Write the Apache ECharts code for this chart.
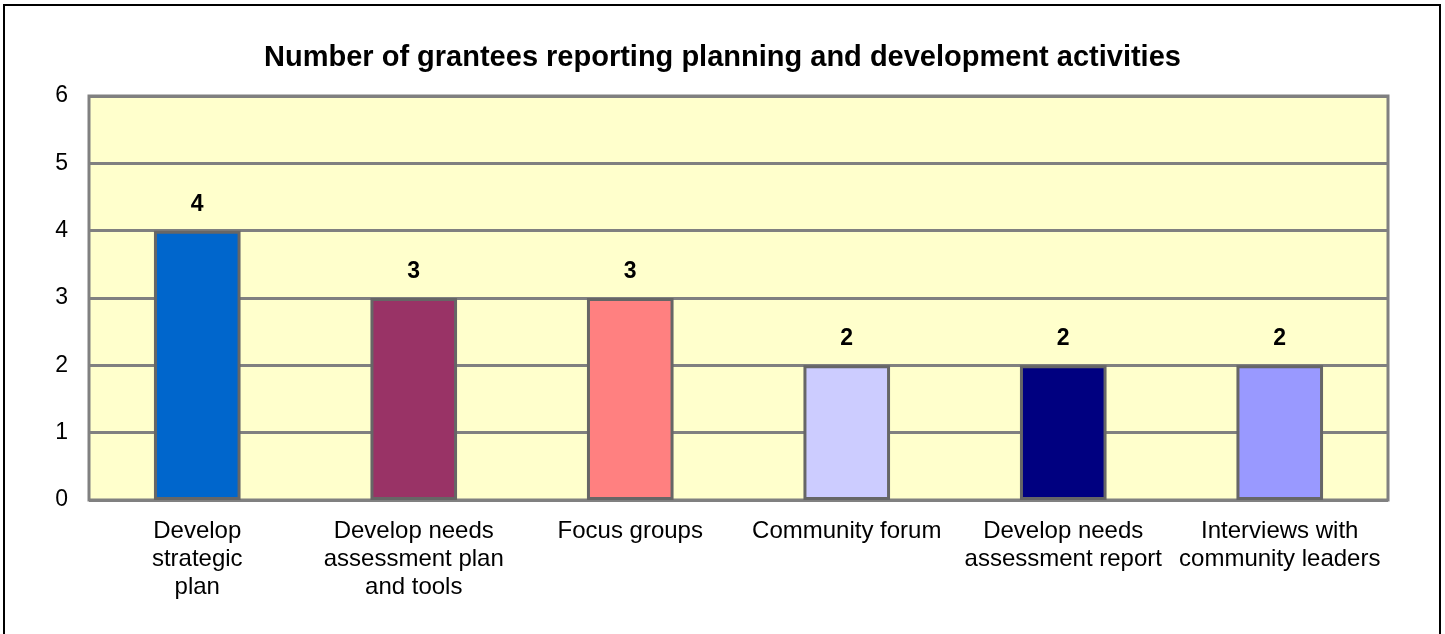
<!DOCTYPE html>
<html lang="en">
<head>
    <meta charset="UTF-8">
    <title>Planning and development activities</title>
    <style>
        html, body { margin: 0; padding: 0; background: #fff; }
        #chart { width: 1445px; height: 634px; }
    </style>
    <script src="https://cdn.jsdelivr.net/npm/echarts@6/dist/echarts.min.js"></script>
</head>
<body>
    <div id="chart"></div>
    <script type="text/javascript">
        var categories = [
            'Develop\nstrategic\nplan',
            'Develop needs\nassessment plan\nand tools',
            'Focus groups',
            'Community forum',
            'Develop needs\nassessment report',
            'Interviews with\ncommunity leaders'
        ];
        var grantees = [4, 3, 3, 2, 2, 2];
        var barColors = ['#0066CC', '#993366', '#FF8080', '#CCCCFF', '#000080', '#9999FF'];

        var myChart = echarts.init(document.getElementById('chart'));
        var font = 'Arial, "Liberation Sans", sans-serif';

        var option = {
            animation: false,
            textStyle: { fontFamily: font },
            title: {
                text: 'Number of grantees reporting planning and development activities',
                left: 'center',
                top: 38,
                textStyle: { fontSize: 29, fontWeight: 'bold', color: '#000', fontFamily: font }
            },
            graphic: [{
                type: 'rect',
                shape: { x: 4, y: 5, width: 1436, height: 640 },
                style: { fill: 'none', stroke: '#000', lineWidth: 2 },
                silent: true
            }],
            grid: {
                left: 89, right: 57, top: 96, bottom: 134,
                show: true,
                backgroundColor: '#FFFFCC',
                borderColor: '#808080',
                borderWidth: 3
            },
            xAxis: {
                type: 'category',
                data: categories,
                axisLine: { show: false },
                axisTick: { show: false },
                axisLabel: {
                    color: '#000', fontSize: 24, lineHeight: 28, margin: 17,
                    interval: 0, fontFamily: font
                }
            },
            yAxis: {
                type: 'value',
                min: 0, max: 6, interval: 1,
                axisLine: { show: false },
                axisTick: { show: false },
                axisLabel: { color: '#000', fontSize: 23, margin: 21, fontFamily: font },
                splitLine: { lineStyle: { color: '#808080', width: 3 } }
            },
            series: [{
                type: 'bar',
                barWidth: '40%',
                data: grantees.map(function (v, i) {
                    return { value: v, itemStyle: { color: barColors[i] } };
                }),
                itemStyle: { borderColor: '#666666', borderWidth: 3 },
                label: {
                    show: true, position: 'top', distance: 15,
                    color: '#000', fontSize: 23, fontWeight: 'bold', fontFamily: font
                }
            }]
        };
        myChart.setOption(option);
    </script>
</body>
</html>
